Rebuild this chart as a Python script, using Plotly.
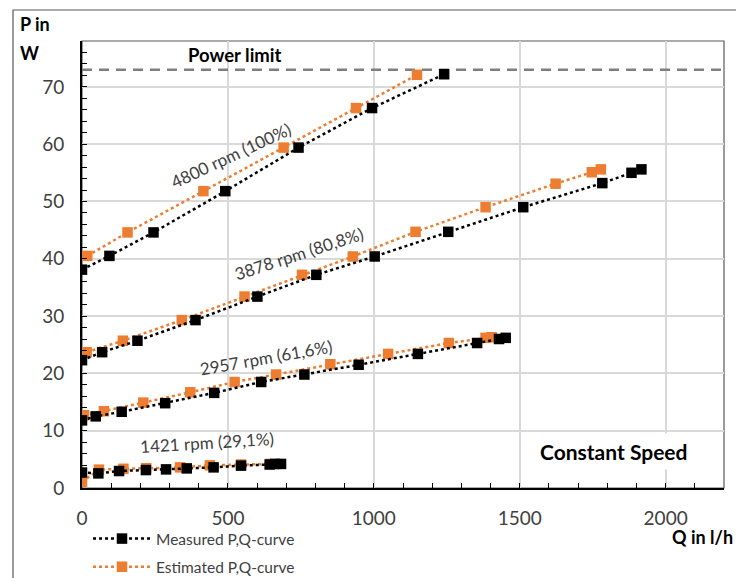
import plotly.graph_objects as go

# ---- data (Q in l/h, P in W) ----
speed_labels = ["4800 rpm (100%)", "3878 rpm (80,8%)", "2957 rpm (61,6%)", "1421 rpm (29,1%)"]

meas_q_4800 = [0, 94, 245, 491, 742, 994, 1241]
meas_p_4800 = [38.1, 40.5, 44.6, 51.8, 59.4, 66.3, 72.2]
est_q_4800 = [18, 156, 416, 691, 939, 1148]
est_p_4800 = [40.5, 44.6, 51.8, 59.4, 66.3, 72.1]

meas_q_3878 = [0, 69, 190, 389, 601, 803, 1003, 1255, 1512, 1783, 1883, 1917]
meas_p_3878 = [22.3, 23.7, 25.7, 29.3, 33.4, 37.2, 40.4, 44.7, 49.0, 53.2, 55.0, 55.6]
est_q_3878 = [16, 140, 342, 557, 754, 928, 1143, 1383, 1623, 1747, 1778]
est_p_3878 = [23.7, 25.7, 29.3, 33.4, 37.2, 40.4, 44.7, 49.0, 53.1, 55.1, 55.6]

meas_q_2957 = [0, 47, 136, 285, 453, 614, 762, 948, 1151, 1354, 1429, 1452]
meas_p_2957 = [11.8, 12.5, 13.3, 14.8, 16.6, 18.5, 19.8, 21.5, 23.4, 25.3, 26.0, 26.2]
est_q_2957 = [7, 75, 210, 371, 523, 665, 851, 1049, 1257, 1383, 1404]
est_p_2957 = [12.7, 13.4, 14.9, 16.7, 18.5, 19.8, 21.6, 23.4, 25.3, 26.2, 26.3]

meas_q_1421 = [0, 56, 127, 219, 288, 359, 451, 545, 643, 662, 682]
meas_p_1421 = [2.7, 2.55, 2.96, 3.13, 3.25, 3.42, 3.6, 3.9, 4.1, 4.2, 4.2]
est_q_1421 = [0, 58, 142, 220, 336, 438, 545, 645]
est_p_1421 = [1.1, 3.2, 3.35, 3.45, 3.6, 3.95, 4.1, 4.2]

power_limit = 73
power_limit_q = [0, 2200]

# label anchor positions (data coords) and angles
label_q = [510, 745, 632, 427]
label_p = [58.0, 40.9, 22.8, 8.0]
label_angle = [-25, -18, -10, -3.5]

measured = [(meas_q_4800, meas_p_4800), (meas_q_3878, meas_p_3878),
            (meas_q_2957, meas_p_2957), (meas_q_1421, meas_p_1421)]
estimated = [(est_q_4800, est_p_4800), (est_q_3878, est_p_3878),
             (est_q_2957, est_p_2957), (est_q_1421, est_p_1421)]

BLACK = "#000000"
ORANGE = "#ED7D31"
FONT = "Lato"

# The page body has an 8px margin, so the figure is drawn 8px right/down.
OFF = 8
W, H = 744 - OFF, 578 - OFF
PL, PR, PT, PB = 82 - OFF, 20, 41 - OFF, 90
PW, PH = W - PL - PR, H - PT - PB


def px(X, Y):
    """page pixel -> paper coordinates"""
    return (X - OFF - PL) / PW, (H - (Y - OFF) - PB) / PH


fig = go.Figure()

# power limit line
fig.add_trace(go.Scatter(x=power_limit_q, y=[power_limit, power_limit], mode="lines",
                         line=dict(color="#7f7f7f", width=2.5, dash="10px,7px"),
                         showlegend=False, hoverinfo="skip"))

for i, (q, p) in enumerate(estimated):
    fig.add_trace(go.Scatter(x=q, y=p, mode="lines+markers",
                             name="Estimated P,Q-curve", legendgroup="est", legendrank=2,
                             showlegend=(i == 0),
                             line=dict(color=ORANGE, width=2.5, dash="dot"),
                             marker=dict(symbol="square", size=10.5, color=ORANGE)))
for i, (q, p) in enumerate(measured):
    fig.add_trace(go.Scatter(x=q, y=p, mode="lines+markers",
                             name="Measured P,Q-curve", legendgroup="meas", legendrank=1,
                             showlegend=(i == 0),
                             line=dict(color=BLACK, width=2.5, dash="dot"),
                             marker=dict(symbol="square", size=10.5, color=BLACK)))

annotations = []
for txt, q, p, a in zip(speed_labels, label_q, label_p, label_angle):
    annotations.append(dict(x=q, y=p, xref="x", yref="y", text=txt, textangle=a,
                            showarrow=False, font=dict(family=FONT, size=17, color="#404040")))

annotations += [
    dict(x=525, y=power_limit + 2.5, xref="x", yref="y", text="<b>Power limit</b>",
         showarrow=False, yanchor="middle", font=dict(family=FONT, size=18.5, color="#000000")),
    dict(x=1820, y=6.3, xref="x", yref="y", text="<b>Constant Speed</b>", showarrow=False,
         bgcolor="white", borderpad=5, font=dict(family=FONT, size=21, color="#000000")),
]
for txt, X, Y, xa in [("<b>P in</b>", 18, 24, "left"), ("<b>W</b>", 18, 53, "left"),
                      ("<b>Q in l/h</b>", 735, 537, "right")]:
    x, y = px(X, Y)
    annotations.append(dict(x=x, y=y, xref="paper", yref="paper", text=txt, showarrow=False,
                            xanchor=xa, yanchor="middle",
                            font=dict(family=FONT, size=18, color="#000000")))

fx0, fy1 = px(13, 10)
shapes = [
    # outer chart frame
    dict(type="rect", xref="paper", yref="paper", x0=fx0, y0=-0.4, x1=1.2, y1=fy1,
         line=dict(color="#595959", width=1.2), layer="below"),
    # plot area border
    dict(type="rect", xref="paper", yref="paper", x0=0, y0=0, x1=1, y1=1,
         line=dict(color="#595959", width=1.2), layer="below"),
]

lx, ly = px(88, 522)
fig.update_layout(
    width=W, height=H,
    margin=dict(l=PL, r=PR, t=PT, b=PB, autoexpand=False),
    paper_bgcolor="white", plot_bgcolor="white",
    font=dict(family=FONT, size=16, color="#404040"),
    annotations=annotations, shapes=shapes,
    legend=dict(x=lx, y=ly, xanchor="left", yanchor="top",
                traceorder="grouped", tracegroupgap=5, itemwidth=58,
                font=dict(family=FONT, size=15.5, color="#404040"),
                bgcolor="rgba(0,0,0,0)"),
)

fig.update_xaxes(range=[0, 2200], tick0=0, dtick=500, showgrid=True, gridcolor="#d9d9d9",
                 gridwidth=1.5, zeroline=False, showline=True, linecolor="#000000", linewidth=2,
                 ticks="inside", ticklen=5, tickcolor="#000000", automargin=False,
                 minor=dict(dtick=100, ticks="inside", ticklen=5, tickcolor="#000000", showgrid=False),
                 tickfont=dict(family=FONT, size=19, color="#404040"), ticklabelstandoff=12)
fig.update_yaxes(range=[0, 78], tick0=0, dtick=10, showgrid=True, gridcolor="#d9d9d9",
                 gridwidth=1.5, zeroline=False, showline=True, linecolor="#000000", linewidth=2,
                 ticks="inside", ticklen=5, tickcolor="#000000", automargin=False,
                 minor=dict(dtick=2, ticks="inside", ticklen=5, tickcolor="#000000", showgrid=False),
                 tickfont=dict(family=FONT, size=19, color="#404040"), ticklabelstandoff=12)

fig.write_html("out.html")
